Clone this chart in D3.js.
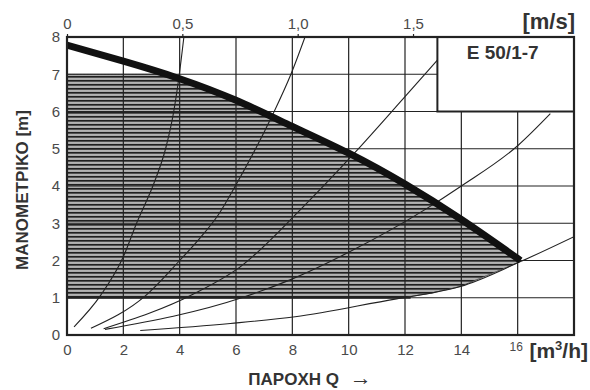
<!DOCTYPE html>
<html>
<head>
<meta charset="utf-8">
<script src="https://cdn.jsdelivr.net/npm/d3@7"></script>
<style>
  body { margin: 0; background: #fff; }
  svg { display: block; }
  text { font-family: "Liberation Sans", Arial, sans-serif; }
</style>
</head>
<body>
<div id="chart"></div>
<script>
// axes
var qTicks = [0, 2, 4, 6, 8, 10, 12, 14, 16];
var hTicks = [0, 1, 2, 3, 4, 5, 6, 7, 8];
var vTicks = [0, 0.5, 1.0, 1.5];
var vTickLabels = ["0", "0,5", "1,0", "1,5"];
var qMax = 18, hMax = 8;
var qPerV = 8.19; // m3/h per m/s (top scale)

// pump curve (thick)
var pumpQ = [0, 2, 4, 6, 8, 10, 12, 14, 16.1];
var pumpH = [7.78, 7.35, 6.88, 6.3, 5.6, 4.88, 4.05, 3.1, 2.0];

// working range (hatched)
var rangeHMin = 1, rangeHMax = 7;

// system curves
var sysA = [[0.25, 0.22], [1.2, 1.07], [2.0, 2.1], [2.47, 3.0], [3.1, 4.1], [3.5, 5.0], [3.78, 5.96], [3.97, 6.9], [4.15, 8]];
var sysB = [[0.85, 0.18], [2.78, 1.05], [4.0, 2.0], [4.72, 2.6], [5.35, 3.2], [6.05, 4.1], [7.33, 5.96], [7.95, 7.0], [8.45, 8]];
var sysC = [[1.3, 0.17], [4.49, 1.1], [6.15, 1.83], [8.28, 3.36], [10.2, 4.88], [12.0, 6.4], [13.15, 7.38]];
var sysD = [[1.35, 0.15], [6.2, 1.0], [7.92, 1.48], [10.05, 2.24], [12.78, 3.4], [13.96, 3.98], [16.03, 5.1], [17.16, 5.94]];
var sysE = [[2.6, 0.12], [5.8, 0.31], [8.1, 0.49], [11.7, 0.97], [12.9, 1.12], [13.96, 1.3], [16.1, 1.97], [18, 2.64]];
var sysCurves = [sysA, sysB, sysC, sysD, sysE];

// type box
var boxQ = [13.15, 18], boxH = [6, 8];
var pumpName = "E 50/1-7";

var W = 590, H = 390;
var margin = {left: 67, right: 16, top: 37, bottom: 55};

var svg = d3.select("#chart").append("svg")
    .attr("width", W)
    .attr("height", H);

var x = d3.scaleLinear().domain([0, qMax]).range([margin.left, W - margin.right]);
var y = d3.scaleLinear().domain([0, hMax]).range([H - margin.bottom, margin.top]);
var xv = d3.scaleLinear().domain([0, qMax / qPerV]).range([margin.left, W - margin.right]);

var ink = "#222";

var defs = svg.append("defs");
var pat = defs.append("pattern")
    .attr("id", "hatch")
    .attr("patternUnits", "userSpaceOnUse")
    .attr("width", 8)
    .attr("height", 4);
pat.append("rect").attr("width", 8).attr("height", 4).attr("fill", "#858585");
pat.append("rect").attr("y", 0).attr("width", 8).attr("height", 1.5).attr("fill", "#202020");
pat.append("rect").attr("y", 2.5).attr("width", 8).attr("height", 0.9).attr("fill", "#e2e2e2");

defs.append("clipPath").attr("id", "plotClip")
    .append("rect")
    .attr("x", x(0)).attr("y", y(hMax))
    .attr("width", x(qMax) - x(0)).attr("height", y(0) - y(hMax));

// linear interpolation helpers
function interp(xs, ys, q) {
    if (q <= xs[0]) return ys[0];
    for (var i = 1; i < xs.length; i++) {
        if (q <= xs[i]) {
            var t = (q - xs[i - 1]) / (xs[i] - xs[i - 1]);
            return ys[i - 1] + t * (ys[i] - ys[i - 1]);
        }
    }
    return ys[ys.length - 1];
}
var eQ = sysE.map(function (d) { return d[0]; });
var eH = sysE.map(function (d) { return d[1]; });

// hatched working area
var qEnd = pumpQ[pumpQ.length - 1];
var samples = d3.range(0, qEnd, 0.05).concat([qEnd]);
var area = d3.area()
    .x(function (q) { return x(q); })
    .y0(function (q) { return y(Math.max(rangeHMin, interp(eQ, eH, q))); })
    .y1(function (q) { return y(Math.min(rangeHMax, interp(pumpQ, pumpH, q))); });

svg.append("path")
    .attr("d", area(samples))
    .attr("fill", "url(#hatch)")
    .attr("stroke", "#333")
    .attr("stroke-width", 0.8);

// grid
var g = svg.append("g").attr("class", "grid");
g.selectAll("line.v")
    .data(qTicks.filter(function (d) { return d > 0; }))
    .enter().append("line")
    .attr("class", "v")
    .attr("x1", function (d) { return x(d); })
    .attr("x2", function (d) { return x(d); })
    .attr("y1", y(0)).attr("y2", y(hMax))
    .attr("stroke", ink).attr("stroke-width", 1.2);
g.selectAll("line.h")
    .data(hTicks.filter(function (d) { return d > 0 && d < hMax; }))
    .enter().append("line")
    .attr("class", "h")
    .attr("x1", x(0)).attr("x2", x(qMax))
    .attr("y1", function (d) { return y(d); })
    .attr("y2", function (d) { return y(d); })
    .attr("stroke", ink).attr("stroke-width", 1.2);

// lower edge of the range a bit heavier
svg.append("line")
    .attr("x1", x(0)).attr("x2", x(12.2))
    .attr("y1", y(rangeHMin)).attr("y2", y(rangeHMin))
    .attr("stroke", ink).attr("stroke-width", 2);

// system curves
var line = d3.line()
    .x(function (d) { return x(d[0]); })
    .y(function (d) { return y(d[1]); })
    .curve(d3.curveMonotoneX);

svg.append("g").attr("clip-path", "url(#plotClip)")
    .selectAll("path")
    .data(sysCurves)
    .enter().append("path")
    .attr("d", line)
    .attr("fill", "none")
    .attr("stroke", ink)
    .attr("stroke-width", 1.1);

// pump curve
var pumpPts = pumpQ.map(function (q, i) { return [q, pumpH[i]]; });
svg.append("path")
    .attr("d", d3.line()
        .x(function (d) { return x(d[0]); })
        .y(function (d) { return y(d[1]); })
        .curve(d3.curveNatural)(pumpPts))
    .attr("fill", "none")
    .attr("stroke", "#111")
    .attr("stroke-width", 7)
    .attr("clip-path", "url(#plotClip)");

// type box
svg.append("rect")
    .attr("x", x(boxQ[0])).attr("y", y(boxH[1]))
    .attr("width", x(boxQ[1]) - x(boxQ[0]))
    .attr("height", y(boxH[0]) - y(boxH[1]))
    .attr("fill", "#fff")
    .attr("stroke", ink)
    .attr("stroke-width", 2);
svg.append("text")
    .attr("x", (x(boxQ[0]) + x(boxQ[1])) / 2 - 3)
    .attr("y", y(7.4))
    .attr("text-anchor", "middle")
    .attr("font-size", 19)
    .attr("font-weight", "bold")
    .attr("fill", "#333")
    .text(pumpName);

// frame
svg.append("rect")
    .attr("x", x(0)).attr("y", y(hMax))
    .attr("width", x(qMax) - x(0)).attr("height", y(0) - y(hMax))
    .attr("fill", "none")
    .attr("stroke", ink)
    .attr("stroke-width", 2.2);

// axes
var xAxis = d3.axisBottom(x).tickValues(qTicks).tickSize(0).tickPadding(9);
svg.append("g")
    .attr("transform", "translate(0," + y(0) + ")")
    .call(xAxis)
    .call(function (s) {
        s.select(".domain").remove();
        s.selectAll("text").attr("font-size", 15).attr("fill", "#4a4a4a")
            .attr("font-family", "'Liberation Sans', Arial, sans-serif");
        s.selectAll(".tick").filter(function (d) { return d === 16; })
            .select("text").attr("font-size", 12).attr("dx", -2).attr("dy", "0.6em");
    });

var yAxis = d3.axisLeft(y).tickValues(hTicks).tickSize(0).tickPadding(7);
svg.append("g")
    .attr("transform", "translate(" + x(0) + ",0)")
    .call(yAxis)
    .call(function (s) {
        s.select(".domain").remove();
        s.selectAll("text").attr("font-size", 15).attr("fill", "#4a4a4a")
            .attr("font-family", "'Liberation Sans', Arial, sans-serif");
    });

var vAxis = d3.axisTop(xv).tickValues(vTicks)
    .tickFormat(function (d, i) { return vTickLabels[i]; })
    .tickSize(3).tickPadding(5);
svg.append("g")
    .attr("transform", "translate(0," + y(hMax) + ")")
    .call(vAxis)
    .call(function (s) {
        s.select(".domain").remove();
        s.selectAll("line").attr("stroke", ink).attr("stroke-width", 1.2);
        s.selectAll("text").attr("font-size", 15).attr("fill", "#4a4a4a")
            .attr("font-family", "'Liberation Sans', Arial, sans-serif");
    });

// unit labels
svg.append("text")
    .attr("x", W - 15).attr("y", 29)
    .attr("text-anchor", "end")
    .attr("font-size", 22).attr("font-weight", "bold").attr("fill", "#333")
    .text("[m/s]");

var unitQ = svg.append("text")
    .attr("x", W - 2).attr("y", 358)
    .attr("text-anchor", "end")
    .attr("font-size", 21).attr("font-weight", "bold").attr("fill", "#333");
unitQ.append("tspan").text("[m");
unitQ.append("tspan").attr("font-size", 13).attr("dy", -8).text("3");
unitQ.append("tspan").attr("dy", 8).text("/h]");

svg.append("text")
    .attr("transform", "translate(28," + ((y(0) + y(hMax)) / 2 + 4) + ") rotate(-90)")
    .attr("text-anchor", "middle")
    .attr("font-size", 17).attr("font-weight", "bold").attr("fill", "#333")
    .text("ΜΑΝΟΜΕΤΡΙΚΟ [m]");

var xLabel = svg.append("text")
    .attr("x", 310).attr("y", 385)
    .attr("text-anchor", "middle")
    .attr("font-size", 17).attr("font-weight", "bold").attr("fill", "#333");
xLabel.append("tspan").text("ΠΑΡΟΧΗ Q ");
xLabel.append("tspan").attr("font-size", 22).attr("dx", 6).text("\u2192");
</script>
</body>
</html>
